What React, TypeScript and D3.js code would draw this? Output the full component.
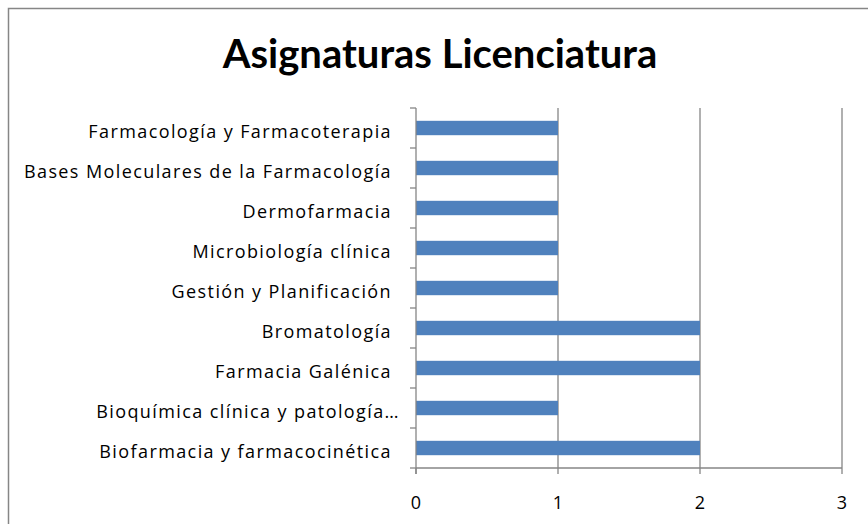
import React from "react";
import * as d3 from "d3";

const categories = [
  "Farmacología y Farmacoterapia",
  "Bases Moleculares de la Farmacología",
  "Dermofarmacia",
  "Microbiología clínica",
  "Gestión y Planificación",
  "Bromatología",
  "Farmacia Galénica",
  "Bioquímica clínica y patología…",
  "Biofarmacia y farmacocinética",
];
const values = [1, 1, 1, 1, 1, 2, 2, 1, 2];
const xTicks = [0, 1, 2, 3];
const title = "Asignaturas Licenciatura";

const W = 868;
const H = 524;
const FONT = "'Open Sans', sans-serif";
const TFONT = "Lato, sans-serif";

export default function App() {
  const x = d3.scaleLinear().domain([0, 3]).range([416, 842]);
  const y = d3.scaleBand<string>().domain(categories).range([108, 468]).paddingInner(0.64).paddingOuter(0.32);
  const band = d3.scaleBand<string>().domain(categories).range([108, 468]);
  const grid = "#868686";
  return (
    <svg width={W} height={H} style={{ position: "absolute", left: 0, top: 0, display: "block" }}>
      <rect x={8.5} y={8.5} width={W} height={H} fill="#fff" stroke={grid} strokeWidth={1.5} />
      <text x={440} y={68} textAnchor="middle" fontFamily={TFONT} fontWeight="bold" fontSize={40} fill="#000">
        {title}
      </text>
      {xTicks.map((t) => (
        <g key={t}>
          {t > 0 && <line x1={x(t)} x2={x(t)} y1={108} y2={468} stroke={grid} strokeWidth={1.3} />}
          <line x1={x(t)} x2={x(t)} y1={468} y2={474} stroke={grid} strokeWidth={1.3} />
          <text x={x(t)} y={509} textAnchor="middle" fontFamily={FONT} fontSize={18} fill="#000">
            {t}
          </text>
        </g>
      ))}
      {categories.map((c, i) => (
        <rect key={c} x={x(0)} y={y(c)} width={x(values[i]) - x(0)} height={y.bandwidth()} fill="#4F81BD" />
      ))}
      <line x1={416} x2={416} y1={108} y2={474} stroke={grid} strokeWidth={1.3} />
      <line x1={416} x2={842} y1={468} y2={468} stroke={grid} strokeWidth={1.3} />
      {categories.map((c) => (
        <line key={"t" + c} x1={410} x2={416} y1={band(c)} y2={band(c)} stroke={grid} strokeWidth={1.3} />
      ))}
      <line x1={410} x2={416} y1={468} y2={468} stroke={grid} strokeWidth={1.3} />
      {categories.map((c) => (
        <text key={"l" + c} x={c.endsWith("…") ? 400 : 392} y={band(c)! + band.bandwidth() / 2 + 10} textAnchor="end" fontFamily={FONT} fontSize={18} letterSpacing={1.4} fill="#000">
          {c}
        </text>
      ))}
    </svg>
  );
}
